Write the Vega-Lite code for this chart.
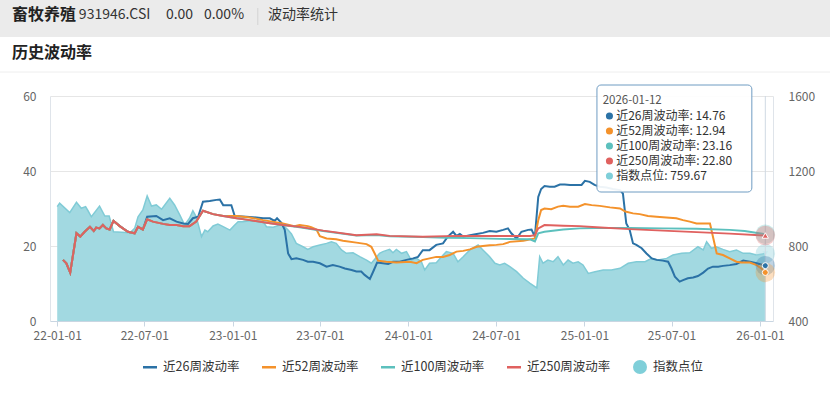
{
  "$schema": "https://vega.github.io/schema/vega-lite/v6.json",
  "width": 723,
  "height": 225,
  "autosize": {"type": "none"},
  "padding": {"left": 50, "top": 96, "right": 57, "bottom": 72},
  "background": "#ffffff",
  "config": {
    "font": "Noto Sans CJK SC",
    "view": {"stroke": null},
    "axis": {"labelFont": "Noto Sans CJK SC", "labelColor": "#666666", "labelFontSize": 12, "title": null}
  },
  "datasets": {
    "idx": [
      {"d":"2022-01-01","p":1010},{"d":"2022-01-06","p":1028},{"d":"2022-01-27","p":978},{"d":"2022-02-10","p":1033},{"d":"2022-02-20","p":1001},{"d":"2022-03-01","p":1010},{"d":"2022-03-06","p":988},{"d":"2022-03-13","p":956},{"d":"2022-03-30","p":1013},{"d":"2022-04-10","p":960},{"d":"2022-04-19","p":960},{"d":"2022-04-28","p":876},{"d":"2022-06-01","p":871},{"d":"2022-06-11","p":894},{"d":"2022-06-18","p":956},{"d":"2022-06-28","p":992},{"d":"2022-07-07","p":1067},{"d":"2022-07-16","p":1013},{"d":"2022-07-26","p":1019},{"d":"2022-08-06","p":996},{"d":"2022-08-23","p":1054},{"d":"2022-09-02","p":1019},{"d":"2022-09-13","p":965},{"d":"2022-09-23","p":912},{"d":"2022-10-03","p":948},{"d":"2022-10-10","p":988},{"d":"2022-10-17","p":956},{"d":"2022-10-28","p":850},{"d":"2022-11-04","p":885},{"d":"2022-11-10","p":876},{"d":"2022-11-21","p":907},{"d":"2022-12-01","p":917},{"d":"2022-12-12","p":903},{"d":"2022-12-26","p":885},
      {"d":"2023-01-05","p":912},{"d":"2023-01-12","p":930},{"d":"2023-01-22","p":930},{"d":"2023-02-05","p":935},{"d":"2023-02-19","p":933},{"d":"2023-03-05","p":930},{"d":"2023-03-12","p":903},{"d":"2023-03-26","p":900},{"d":"2023-04-09","p":912},{"d":"2023-04-15","p":912},{"d":"2023-04-26","p":885},{"d":"2023-05-03","p":864},{"d":"2023-05-13","p":814},{"d":"2023-05-27","p":796},{"d":"2023-06-06","p":782},{"d":"2023-06-17","p":796},{"d":"2023-07-01","p":805},{"d":"2023-07-15","p":814},{"d":"2023-07-25","p":823},{"d":"2023-08-04","p":814},{"d":"2023-08-15","p":779},{"d":"2023-08-25","p":761},{"d":"2023-09-08","p":764},{"d":"2023-09-22","p":743},{"d":"2023-10-06","p":725},{"d":"2023-10-16","p":708},{"d":"2023-10-23","p":729},{"d":"2023-11-02","p":761},{"d":"2023-11-09","p":770},{"d":"2023-11-23","p":782},{"d":"2023-11-30","p":764},{"d":"2023-12-07","p":782},{"d":"2023-12-18","p":761},{"d":"2023-12-28","p":770},
      {"d":"2024-01-07","p":725},{"d":"2024-01-18","p":734},{"d":"2024-01-28","p":716},{"d":"2024-02-04","p":672},{"d":"2024-02-14","p":708},{"d":"2024-02-28","p":711},{"d":"2024-03-10","p":743},{"d":"2024-03-20","p":770},{"d":"2024-04-03","p":761},{"d":"2024-04-13","p":716},{"d":"2024-04-24","p":743},{"d":"2024-05-08","p":779},{"d":"2024-05-25","p":805},{"d":"2024-06-04","p":779},{"d":"2024-06-18","p":743},{"d":"2024-06-29","p":708},{"d":"2024-07-09","p":699},{"d":"2024-07-19","p":708},{"d":"2024-07-30","p":690},{"d":"2024-08-13","p":663},{"d":"2024-08-27","p":628},{"d":"2024-09-10","p":601},{"d":"2024-09-20","p":583},{"d":"2024-09-24","p":576},{"d":"2024-09-30","p":743},{"d":"2024-10-07","p":708},{"d":"2024-10-17","p":725},{"d":"2024-10-28","p":716},{"d":"2024-11-07","p":743},{"d":"2024-11-18","p":699},{"d":"2024-11-28","p":725},{"d":"2024-12-08","p":708},{"d":"2024-12-19","p":716},{"d":"2024-12-29","p":699},
      {"d":"2025-01-09","p":654},{"d":"2025-01-23","p":663},{"d":"2025-02-09","p":672},{"d":"2025-02-26","p":672},{"d":"2025-03-16","p":681},{"d":"2025-04-02","p":708},{"d":"2025-04-19","p":716},{"d":"2025-05-07","p":716},{"d":"2025-05-21","p":734},{"d":"2025-06-03","p":725},{"d":"2025-06-21","p":734},{"d":"2025-07-04","p":752},{"d":"2025-07-22","p":761},{"d":"2025-08-08","p":764},{"d":"2025-08-25","p":796},{"d":"2025-09-05","p":779},{"d":"2025-09-12","p":823},{"d":"2025-09-22","p":788},{"d":"2025-10-02","p":796},{"d":"2025-10-16","p":782},{"d":"2025-10-30","p":770},{"d":"2025-11-13","p":779},{"d":"2025-11-27","p":761},{"d":"2025-12-11","p":761},{"d":"2025-12-25","p":752},{"d":"2026-01-12","p":759.67}
    ],
    "vol": [
      {"d":"2022-01-13","s":"26","v":16.3},{"d":"2022-01-20","s":"26","v":15.4},{"d":"2022-01-28","s":"26","v":12.9},{"d":"2022-02-10","s":"26","v":23.4},{"d":"2022-02-18","s":"26","v":22.5},{"d":"2022-02-27","s":"26","v":23.8},{"d":"2022-03-10","s":"26","v":25.1},{"d":"2022-03-18","s":"26","v":24.0},{"d":"2022-03-23","s":"26","v":24.9},{"d":"2022-03-30","s":"26","v":24.7},{"d":"2022-04-06","s":"26","v":25.6},{"d":"2022-04-13","s":"26","v":24.7},{"d":"2022-04-20","s":"26","v":24.4},{"d":"2022-04-28","s":"26","v":26.7},{"d":"2022-05-11","s":"26","v":25.3},{"d":"2022-05-28","s":"26","v":23.8},{"d":"2022-06-11","s":"26","v":23.4},{"d":"2022-06-18","s":"26","v":25.1},{"d":"2022-06-28","s":"26","v":24.4},
      {"d":"2022-07-07","s":"26","v":27.8},{"d":"2022-07-26","s":"26","v":28.0},{"d":"2022-08-09","s":"26","v":26.9},{"d":"2022-08-23","s":"26","v":27.4},{"d":"2022-09-06","s":"26","v":26.5},{"d":"2022-09-20","s":"26","v":26.0},{"d":"2022-09-30","s":"26","v":25.9},{"d":"2022-10-10","s":"26","v":27.4},{"d":"2022-10-21","s":"26","v":27.8},{"d":"2022-10-31","s":"26","v":31.8},{"d":"2022-11-14","s":"26","v":32.0},{"d":"2022-11-28","s":"26","v":32.3},{"d":"2022-12-05","s":"26","v":32.4},{"d":"2022-12-12","s":"26","v":30.9},{"d":"2022-12-29","s":"26","v":30.9},
      {"d":"2023-01-05","s":"26","v":28.0},{"d":"2023-01-29","s":"26","v":27.8},{"d":"2023-02-19","s":"26","v":27.6},{"d":"2023-03-05","s":"26","v":27.4},{"d":"2023-03-19","s":"26","v":27.4},{"d":"2023-03-29","s":"26","v":26.7},{"d":"2023-04-03","s":"26","v":27.4},{"d":"2023-04-12","s":"26","v":26.2},{"d":"2023-04-19","s":"26","v":24.3},{"d":"2023-04-26","s":"26","v":18.0},{"d":"2023-05-03","s":"26","v":16.5},{"d":"2023-05-13","s":"26","v":16.7},{"d":"2023-05-27","s":"26","v":16.3},{"d":"2023-06-06","s":"26","v":15.8},{"d":"2023-06-17","s":"26","v":15.8},{"d":"2023-07-01","s":"26","v":15.4},{"d":"2023-07-15","s":"26","v":14.5},{"d":"2023-07-28","s":"26","v":14.9},{"d":"2023-08-11","s":"26","v":14.5},{"d":"2023-08-22","s":"26","v":14.0},{"d":"2023-09-05","s":"26","v":13.6},{"d":"2023-09-15","s":"26","v":13.2},{"d":"2023-09-25","s":"26","v":13.2},{"d":"2023-10-02","s":"26","v":12.3},{"d":"2023-10-13","s":"26","v":11.2},{"d":"2023-10-20","s":"26","v":13.2},{"d":"2023-10-28","s":"26","v":15.6},{"d":"2023-11-09","s":"26","v":15.4},{"d":"2023-11-20","s":"26","v":15.2},{"d":"2023-11-30","s":"26","v":15.8},{"d":"2023-12-14","s":"26","v":15.8},{"d":"2023-12-28","s":"26","v":16.3},
      {"d":"2024-01-11","s":"26","v":16.7},{"d":"2024-01-21","s":"26","v":17.1},{"d":"2024-01-31","s":"26","v":18.9},{"d":"2024-02-14","s":"26","v":18.9},{"d":"2024-02-28","s":"26","v":20.3},{"d":"2024-03-13","s":"26","v":20.7},{"d":"2024-03-23","s":"26","v":22.5},{"d":"2024-04-03","s":"26","v":23.8},{"d":"2024-04-10","s":"26","v":22.7},{"d":"2024-04-17","s":"26","v":23.2},{"d":"2024-04-24","s":"26","v":22.5},{"d":"2024-05-08","s":"26","v":22.9},{"d":"2024-05-22","s":"26","v":23.2},{"d":"2024-06-04","s":"26","v":23.5},{"d":"2024-06-18","s":"26","v":24.0},{"d":"2024-07-02","s":"26","v":23.8},{"d":"2024-07-16","s":"26","v":24.3},{"d":"2024-07-26","s":"26","v":24.7},{"d":"2024-08-02","s":"26","v":23.4},{"d":"2024-08-13","s":"26","v":22.0},{"d":"2024-08-23","s":"26","v":23.8},{"d":"2024-09-06","s":"26","v":24.3},{"d":"2024-09-13","s":"26","v":24.4},{"d":"2024-09-20","s":"26","v":22.5},{"d":"2024-09-27","s":"26","v":33.1},{"d":"2024-10-03","s":"26","v":35.2},{"d":"2024-10-10","s":"26","v":36.0},{"d":"2024-10-21","s":"26","v":35.8},{"d":"2024-10-31","s":"26","v":35.8},{"d":"2024-11-11","s":"26","v":36.4},{"d":"2024-11-21","s":"26","v":36.4},{"d":"2024-12-02","s":"26","v":36.3},{"d":"2024-12-15","s":"26","v":36.3},{"d":"2024-12-26","s":"26","v":36.3},
      {"d":"2025-01-02","s":"26","v":37.4},{"d":"2025-01-12","s":"26","v":37.1},{"d":"2025-01-22","s":"26","v":36.3},{"d":"2025-02-02","s":"26","v":35.8},{"d":"2025-02-16","s":"26","v":35.6},{"d":"2025-03-01","s":"26","v":35.2},{"d":"2025-03-16","s":"26","v":34.9},{"d":"2025-03-22","s":"26","v":34.0},{"d":"2025-03-29","s":"26","v":26.0},{"d":"2025-04-05","s":"26","v":24.3},{"d":"2025-04-12","s":"26","v":20.7},{"d":"2025-04-19","s":"26","v":20.3},{"d":"2025-04-30","s":"26","v":19.4},{"d":"2025-05-10","s":"26","v":18.0},{"d":"2025-05-21","s":"26","v":16.7},{"d":"2025-05-31","s":"26","v":16.3},{"d":"2025-06-13","s":"26","v":16.1},{"d":"2025-06-24","s":"26","v":15.8},{"d":"2025-07-01","s":"26","v":14.0},{"d":"2025-07-08","s":"26","v":11.8},{"d":"2025-07-18","s":"26","v":10.5},{"d":"2025-07-25","s":"26","v":10.9},{"d":"2025-08-04","s":"26","v":11.4},{"d":"2025-08-15","s":"26","v":11.6},{"d":"2025-08-25","s":"26","v":12.0},{"d":"2025-09-05","s":"26","v":12.9},{"d":"2025-09-15","s":"26","v":14.0},{"d":"2025-09-25","s":"26","v":14.5},{"d":"2025-10-06","s":"26","v":14.5},{"d":"2025-10-16","s":"26","v":14.7},{"d":"2025-10-30","s":"26","v":14.9},{"d":"2025-11-13","s":"26","v":15.2},{"d":"2025-11-27","s":"26","v":16.1},{"d":"2025-12-11","s":"26","v":15.8},{"d":"2025-12-25","s":"26","v":15.4},{"d":"2026-01-12","s":"26","v":14.76},

      {"d":"2022-01-13","s":"52","v":16.3},{"d":"2022-01-20","s":"52","v":15.4},{"d":"2022-01-28","s":"52","v":12.9},{"d":"2022-02-10","s":"52","v":23.4},{"d":"2022-02-18","s":"52","v":22.5},{"d":"2022-02-27","s":"52","v":23.8},{"d":"2022-03-10","s":"52","v":25.1},{"d":"2022-03-18","s":"52","v":24.0},{"d":"2022-03-23","s":"52","v":24.9},{"d":"2022-03-30","s":"52","v":24.7},{"d":"2022-04-06","s":"52","v":25.6},{"d":"2022-04-13","s":"52","v":24.7},{"d":"2022-04-20","s":"52","v":24.4},{"d":"2022-04-28","s":"52","v":26.7},{"d":"2022-05-11","s":"52","v":25.3},{"d":"2022-05-28","s":"52","v":23.8},{"d":"2022-06-11","s":"52","v":23.4},{"d":"2022-06-18","s":"52","v":25.1},{"d":"2022-06-28","s":"52","v":24.4},
      {"d":"2022-07-07","s":"52","v":27.1},{"d":"2022-07-19","s":"52","v":26.5},{"d":"2022-08-09","s":"52","v":25.9},{"d":"2022-08-23","s":"52","v":25.6},{"d":"2022-09-06","s":"52","v":25.6},{"d":"2022-09-20","s":"52","v":25.3},{"d":"2022-10-03","s":"52","v":25.3},{"d":"2022-10-17","s":"52","v":26.5},{"d":"2022-10-31","s":"52","v":29.4},{"d":"2022-11-21","s":"52","v":28.5},{"d":"2022-12-12","s":"52","v":28.0},
      {"d":"2023-01-09","s":"52","v":28.0},{"d":"2023-02-05","s":"52","v":27.6},{"d":"2023-03-05","s":"52","v":26.9},{"d":"2023-04-15","s":"52","v":26.0},{"d":"2023-05-09","s":"52","v":25.3},{"d":"2023-05-20","s":"52","v":25.6},{"d":"2023-06-06","s":"52","v":25.3},{"d":"2023-06-13","s":"52","v":25.0},{"d":"2023-06-24","s":"52","v":24.4},{"d":"2023-07-01","s":"52","v":22.6},{"d":"2023-07-15","s":"52","v":22.0},{"d":"2023-08-04","s":"52","v":21.8},{"d":"2023-08-18","s":"52","v":21.4},{"d":"2023-09-15","s":"52","v":20.9},{"d":"2023-10-06","s":"52","v":20.5},{"d":"2023-10-16","s":"52","v":19.8},{"d":"2023-10-23","s":"52","v":18.0},{"d":"2023-10-30","s":"52","v":16.1},{"d":"2023-11-16","s":"52","v":15.8},{"d":"2023-12-07","s":"52","v":15.6},
      {"d":"2024-01-04","s":"52","v":15.8},{"d":"2024-01-18","s":"52","v":15.4},{"d":"2024-01-31","s":"52","v":16.3},{"d":"2024-02-14","s":"52","v":16.7},{"d":"2024-02-28","s":"52","v":17.1},{"d":"2024-03-13","s":"52","v":17.1},{"d":"2024-03-27","s":"52","v":17.6},{"d":"2024-04-10","s":"52","v":18.5},{"d":"2024-04-24","s":"52","v":18.7},{"d":"2024-05-08","s":"52","v":19.1},{"d":"2024-05-22","s":"52","v":19.8},{"d":"2024-06-04","s":"52","v":20.0},{"d":"2024-06-18","s":"52","v":20.2},{"d":"2024-07-02","s":"52","v":20.3},{"d":"2024-07-16","s":"52","v":20.5},{"d":"2024-07-30","s":"52","v":21.1},{"d":"2024-08-27","s":"52","v":21.4},{"d":"2024-09-20","s":"52","v":22.0},{"d":"2024-09-27","s":"52","v":26.9},{"d":"2024-10-03","s":"52","v":29.6},{"d":"2024-10-10","s":"52","v":30.0},{"d":"2024-10-24","s":"52","v":29.8},{"d":"2024-11-07","s":"52","v":30.5},{"d":"2024-11-18","s":"52","v":30.7},{"d":"2024-12-02","s":"52","v":30.5},{"d":"2024-12-19","s":"52","v":30.5},
      {"d":"2025-01-02","s":"52","v":31.2},{"d":"2025-01-16","s":"52","v":30.9},{"d":"2025-02-02","s":"52","v":30.7},{"d":"2025-02-23","s":"52","v":30.3},{"d":"2025-03-16","s":"52","v":30.0},{"d":"2025-03-27","s":"52","v":29.2},{"d":"2025-04-12","s":"52","v":28.7},{"d":"2025-04-26","s":"52","v":28.5},{"d":"2025-05-13","s":"52","v":28.0},{"d":"2025-05-31","s":"52","v":27.8},{"d":"2025-06-20","s":"52","v":27.6},{"d":"2025-07-11","s":"52","v":27.4},{"d":"2025-07-25","s":"52","v":26.9},{"d":"2025-08-08","s":"52","v":26.5},{"d":"2025-08-22","s":"52","v":26.0},{"d":"2025-09-19","s":"52","v":26.0},{"d":"2025-09-26","s":"52","v":22.0},{"d":"2025-10-03","s":"52","v":18.0},{"d":"2025-10-16","s":"52","v":17.6},{"d":"2025-10-30","s":"52","v":16.7},{"d":"2025-11-13","s":"52","v":15.8},{"d":"2025-11-23","s":"52","v":15.6},{"d":"2025-12-11","s":"52","v":15.6},{"d":"2025-12-25","s":"52","v":14.9},{"d":"2026-01-04","s":"52","v":14.0},{"d":"2026-01-12","s":"52","v":12.94},

      {"d":"2022-01-13","s":"100","v":16.3},{"d":"2022-01-20","s":"100","v":15.4},{"d":"2022-01-28","s":"100","v":12.9},{"d":"2022-02-10","s":"100","v":23.4},{"d":"2022-02-18","s":"100","v":22.5},{"d":"2022-02-27","s":"100","v":23.8},{"d":"2022-03-10","s":"100","v":25.1},{"d":"2022-03-18","s":"100","v":24.0},{"d":"2022-03-23","s":"100","v":24.9},{"d":"2022-03-30","s":"100","v":24.7},{"d":"2022-04-06","s":"100","v":25.6},{"d":"2022-04-13","s":"100","v":24.7},{"d":"2022-04-20","s":"100","v":24.4},{"d":"2022-04-28","s":"100","v":26.7},{"d":"2022-05-11","s":"100","v":25.3},{"d":"2022-05-28","s":"100","v":23.8},{"d":"2022-06-11","s":"100","v":23.4},{"d":"2022-06-18","s":"100","v":25.1},{"d":"2022-06-28","s":"100","v":24.4},
      {"d":"2022-07-07","s":"100","v":27.1},{"d":"2022-07-19","s":"100","v":26.5},{"d":"2022-08-09","s":"100","v":25.9},{"d":"2022-08-23","s":"100","v":25.6},{"d":"2022-09-06","s":"100","v":25.6},{"d":"2022-09-20","s":"100","v":25.3},{"d":"2022-10-03","s":"100","v":25.3},{"d":"2022-10-17","s":"100","v":26.5},{"d":"2022-10-31","s":"100","v":29.4},{"d":"2022-11-21","s":"100","v":28.5},{"d":"2022-12-12","s":"100","v":28.0},
      {"d":"2023-01-09","s":"100","v":27.4},{"d":"2023-02-05","s":"100","v":26.9},{"d":"2023-03-12","s":"100","v":26.2},{"d":"2023-04-15","s":"100","v":25.6},{"d":"2023-05-20","s":"100","v":25.0},{"d":"2023-07-08","s":"100","v":24.0},{"d":"2023-09-15","s":"100","v":22.8},{"d":"2023-10-27","s":"100","v":22.9},{"d":"2023-11-23","s":"100","v":22.6},{"d":"2024-01-31","s":"100","v":22.4},
      {"d":"2024-03-20","s":"100","v":22.2},{"d":"2024-05-08","s":"100","v":22.1},{"d":"2024-07-09","s":"100","v":21.9},{"d":"2024-09-10","s":"100","v":21.8},{"d":"2024-09-20","s":"100","v":21.2},{"d":"2024-09-27","s":"100","v":23.4},{"d":"2024-10-10","s":"100","v":23.8},{"d":"2024-11-18","s":"100","v":24.4},{"d":"2024-12-22","s":"100","v":24.7},{"d":"2025-01-26","s":"100","v":24.8},{"d":"2025-04-05","s":"100","v":24.8},{"d":"2025-06-13","s":"100","v":24.7},{"d":"2025-08-22","s":"100","v":24.6},{"d":"2025-10-30","s":"100","v":24.3},{"d":"2025-11-30","s":"100","v":24.0},{"d":"2026-01-12","s":"100","v":23.16},

      {"d":"2022-01-13","s":"250","v":16.3},{"d":"2022-01-20","s":"250","v":15.4},{"d":"2022-01-28","s":"250","v":12.9},{"d":"2022-02-10","s":"250","v":23.4},{"d":"2022-02-18","s":"250","v":22.5},{"d":"2022-02-27","s":"250","v":23.8},{"d":"2022-03-10","s":"250","v":25.1},{"d":"2022-03-18","s":"250","v":24.0},{"d":"2022-03-23","s":"250","v":24.9},{"d":"2022-03-30","s":"250","v":24.7},{"d":"2022-04-06","s":"250","v":25.6},{"d":"2022-04-13","s":"250","v":24.7},{"d":"2022-04-20","s":"250","v":24.4},{"d":"2022-04-28","s":"250","v":26.7},{"d":"2022-05-11","s":"250","v":25.3},{"d":"2022-05-28","s":"250","v":23.8},{"d":"2022-06-11","s":"250","v":23.4},{"d":"2022-06-18","s":"250","v":25.1},{"d":"2022-06-28","s":"250","v":24.4},
      {"d":"2022-07-07","s":"250","v":27.1},{"d":"2022-07-19","s":"250","v":26.5},{"d":"2022-08-09","s":"250","v":25.9},{"d":"2022-08-23","s":"250","v":25.6},{"d":"2022-09-06","s":"250","v":25.6},{"d":"2022-09-20","s":"250","v":25.3},{"d":"2022-10-03","s":"250","v":25.3},{"d":"2022-10-17","s":"250","v":26.5},{"d":"2022-10-31","s":"250","v":29.4},{"d":"2022-11-21","s":"250","v":28.5},{"d":"2022-12-12","s":"250","v":28.0},
      {"d":"2023-01-09","s":"250","v":27.4},{"d":"2023-02-05","s":"250","v":26.9},{"d":"2023-03-12","s":"250","v":26.2},{"d":"2023-04-15","s":"250","v":25.6},{"d":"2023-05-20","s":"250","v":25.1},{"d":"2023-07-08","s":"250","v":24.1},{"d":"2023-09-15","s":"250","v":22.9},{"d":"2023-10-27","s":"250","v":23.1},{"d":"2023-11-23","s":"250","v":22.7},{"d":"2024-01-31","s":"250","v":22.5},
      {"d":"2024-04-10","s":"250","v":22.7},{"d":"2024-06-18","s":"250","v":22.7},{"d":"2024-09-10","s":"250","v":22.7},{"d":"2024-09-20","s":"250","v":22.9},{"d":"2024-09-27","s":"250","v":24.7},{"d":"2024-10-10","s":"250","v":25.6},{"d":"2024-11-18","s":"250","v":25.4},{"d":"2024-12-22","s":"250","v":25.3},{"d":"2025-01-26","s":"250","v":25.0},{"d":"2025-04-05","s":"250","v":24.5},{"d":"2025-06-13","s":"250","v":24.1},{"d":"2025-08-22","s":"250","v":23.7},{"d":"2025-10-30","s":"250","v":23.3},{"d":"2026-01-12","s":"250","v":22.8}
    ],
    "leg": [{"s":"26"},{"s":"52"},{"s":"100"},{"s":"250"},{"s":"idx"}],
    "tip": [
      {"k":0,"t":"2026-01-12"},
      {"k":1,"s":"26","t":"近26周波动率: 14.76"},
      {"k":2,"s":"52","t":"近52周波动率: 12.94"},
      {"k":3,"s":"100","t":"近100周波动率: 23.16"},
      {"k":4,"s":"250","t":"近250周波动率: 22.80"},
      {"k":5,"s":"idx","t":"指数点位: 759.67"}
    ]
  },
  "layer": [
    {
      "layer": [
        {
          "data": {"name": "idx"},
          "mark": {"type": "area", "color": "#a2d9e1", "opacity": 1, "line": {"color": "#80cbd6", "strokeWidth": 1.5}},
          "encoding": {
            "x": {
              "field": "d", "type": "temporal", "title": null,
              "scale": {"type": "utc", "nice": false, "domain": [{"year": 2021, "month": 12, "date": 17, "utc": true}, {"year": 2026, "month": 1, "date": 28, "utc": true}]},
              "axis": {
                "values": [
                  {"year": 2022, "month": 1, "date": 1, "utc": true}, {"year": 2022, "month": 7, "date": 1, "utc": true},
                  {"year": 2023, "month": 1, "date": 1, "utc": true}, {"year": 2023, "month": 7, "date": 1, "utc": true},
                  {"year": 2024, "month": 1, "date": 1, "utc": true}, {"year": 2024, "month": 7, "date": 1, "utc": true},
                  {"year": 2025, "month": 1, "date": 1, "utc": true}, {"year": 2025, "month": 7, "date": 1, "utc": true},
                  {"year": 2026, "month": 1, "date": 1, "utc": true}
                ],
                "format": "%y-%m-%d", "grid": false, "domain": true, "domainColor": "#c9d6e2", "ticks": true,
                "tickColor": "#c9d6e2", "tickSize": 5, "labelPadding": 4, "labelColor": "#666666", "labelFontSize": 12, "title": null
              }
            },
            "y": {
              "field": "p", "type": "quantitative", "title": null,
              "scale": {"domain": [400, 1600], "nice": false, "zero": false},
              "axis": {"orient": "right", "values": [400, 800, 1200, 1600], "format": "d", "grid": false, "ticks": false, "domain": true, "domainColor": "#dfe4ea", "labelPadding": 15, "title": null}
            },
            "y2": {"datum": 400}
          }
        },
        {
          "data": {"name": "idx"},
          "transform": [{"filter": "time(datum.d) == utc(2026,0,12)"}],
          "mark": {"type": "point", "filled": true, "size": 380, "color": "#9fd8e1", "opacity": 0.45, "clip": false},
          "encoding": {"x": {"field": "d", "type": "temporal", "title": null}, "y": {"field": "p", "type": "quantitative", "title": null}}
        },
        {
          "data": {"name": "idx"},
          "transform": [{"filter": "time(datum.d) == utc(2026,0,12)"}],
          "mark": {"type": "point", "filled": true, "shape": "triangle-down", "size": 30, "color": "#bfe8ee", "clip": false},
          "encoding": {"x": {"field": "d", "type": "temporal", "title": null}, "y": {"field": "p", "type": "quantitative", "title": null}}
        }
      ]
    },
    {
      "layer": [
        {
          "data": {"values": [{}]},
          "mark": {"type": "rule", "color": "#cfd9e3", "strokeWidth": 1},
          "encoding": {"x": {"datum": {"year": 2026, "month": 1, "date": 12, "utc": true}, "type": "temporal", "title": null}}
        },
        {
          "data": {"name": "vol"},
          "mark": {"type": "line", "strokeWidth": 2},
          "encoding": {
            "x": {"field": "d", "type": "temporal", "title": null},
            "y": {
              "field": "v", "type": "quantitative", "title": null,
              "scale": {"domain": [0, 60], "nice": false},
              "axis": {"orient": "left", "values": [0, 20, 40, 60], "grid": true, "gridColor": "#e6e6e6", "ticks": false, "domain": true, "domainColor": "#dfe4ea", "labelPadding": 14, "title": null}
            },
            "stroke": {
              "field": "s", "type": "nominal",
              "scale": {"domain": ["26", "52", "100", "250"], "range": ["#2b72a6", "#f4922b", "#5cc0bd", "#e0615f"]},
              "legend": null
            }
          }
        },
        {
          "data": {"name": "vol"},
          "transform": [{"filter": "time(datum.d) == utc(2026,0,12)"}],
          "mark": {"type": "point", "filled": true, "size": 380, "opacity": 0.3, "clip": false},
          "encoding": {
            "x": {"field": "d", "type": "temporal", "title": null},
            "y": {"field": "v", "type": "quantitative", "title": null},
            "fill": {
              "field": "s", "type": "nominal",
              "scale": {"domain": ["idx", "26", "52", "100", "250"], "range": ["#7fcfd9", "#2b72a6", "#f4922b", "#5cc0bd", "#e0615f"]},
              "legend": null
            }
          }
        },
        {
          "data": {"name": "vol"},
          "transform": [{"filter": "time(datum.d) == utc(2026,0,12) && (datum.s == '26' || datum.s == '52')"}],
          "mark": {"type": "point", "filled": true, "size": 36, "stroke": "#ffffff", "strokeWidth": 1, "opacity": 1, "clip": false},
          "encoding": {
            "x": {"field": "d", "type": "temporal", "title": null},
            "y": {"field": "v", "type": "quantitative", "title": null},
            "fill": {"field": "s", "type": "nominal", "legend": null}
          }
        },
        {
          "data": {"name": "vol"},
          "transform": [{"filter": "time(datum.d) == utc(2026,0,12) && datum.s == '250'"}],
          "mark": {"type": "point", "filled": true, "shape": "triangle-up", "size": 40, "stroke": "#ffffff", "strokeWidth": 1, "opacity": 1, "clip": false},
          "encoding": {
            "x": {"field": "d", "type": "temporal", "title": null},
            "y": {"field": "v", "type": "quantitative", "title": null},
            "fill": {"field": "s", "type": "nominal", "legend": null}
          }
        },
        {
          "data": {"name": "leg"},
          "mark": {"type": "point", "filled": true, "opacity": 0},
          "encoding": {
            "x": {"datum": {"year": 2023, "month": 1, "date": 1, "utc": true}, "type": "temporal", "title": null},
            "y": {"datum": 30, "type": "quantitative", "title": null},
            "color": {
              "field": "s", "type": "nominal",
              "scale": {"domain": ["26", "52", "100", "250", "idx"], "range": ["#2b72a6", "#f4922b", "#5cc0bd", "#e0615f", "#7fcfd9"]},
              "legend": {
                "orient": "none", "legendX": 93, "legendY": 264, "direction": "horizontal", "title": null,
                "symbolSize": 196, "symbolStrokeWidth": 0, "symbolOpacity": 1, "labelFontSize": 12.5, "labelColor": "#333333",
                "labelFont": "Noto Sans CJK SC", "labelOffset": 6, "columnPadding": 22, "padding": 0,
                "labelExpr": "datum.label == 'idx' ? '指数点位' : '近' + datum.label + '周波动率'"
              }
            },
            "shape": {
              "field": "s", "type": "nominal",
              "scale": {"domain": ["26", "52", "100", "250", "idx"], "range": ["M-1,-0.18H1V0.18H-1Z", "M-1,-0.18H1V0.18H-1Z", "M-1,-0.18H1V0.18H-1Z", "M-1,-0.18H1V0.18H-1Z", "circle"]},
              "legend": {
                "orient": "none", "legendX": 93, "legendY": 264, "direction": "horizontal", "title": null,
                "symbolSize": 196, "symbolStrokeWidth": 0, "symbolOpacity": 1, "labelFontSize": 12.5, "labelColor": "#333333",
                "labelFont": "Noto Sans CJK SC", "labelOffset": 6, "columnPadding": 22, "padding": 0,
                "labelExpr": "datum.label == 'idx' ? '指数点位' : '近' + datum.label + '周波动率'"
              }
            }
          }
        },
        {
          "data": {"values": [{}]},
          "mark": {"type": "rect", "color": "#ebebeb", "clip": false},
          "encoding": {
            "x": {"datum": {"year": 2021, "month": 8, "date": 25, "utc": true}, "type": "temporal", "title": null},
            "x2": {"datum": {"year": 2026, "month": 6, "date": 6, "utc": true}},
            "y": {"datum": 85.7, "type": "quantitative", "title": null},
            "y2": {"datum": 75.73}
          }
        },
        {
          "data": {"values": [{}]},
          "mark": {"type": "rule", "color": "#eeeeee", "strokeWidth": 1, "clip": false},
          "encoding": {
            "x": {"datum": {"year": 2021, "month": 8, "date": 25, "utc": true}, "type": "temporal", "title": null},
            "x2": {"datum": {"year": 2026, "month": 6, "date": 6, "utc": true}},
            "y": {"datum": 66.4, "type": "quantitative", "title": null}
          }
        },
        {
          "data": {"values": [{}]},
          "mark": {"type": "rule", "color": "#d3d3d3", "strokeWidth": 1, "clip": false},
          "encoding": {
            "x": {"datum": {"year": 2023, "month": 2, "date": 22, "utc": true}, "type": "temporal", "title": null},
            "y": {"datum": 83.47, "type": "quantitative", "title": null},
            "y2": {"datum": 78.93}
          }
        },
        {
          "data": {"values": [{"t": "畜牧养殖"}]},
          "mark": {"type": "text", "align": "left", "baseline": "middle", "fontSize": 16, "fontWeight": "bold", "color": "#222222", "clip": false},
          "encoding": {
            "x": {"datum": {"year": 2021, "month": 9, "date": 29, "utc": true}, "type": "temporal", "title": null},
            "y": {"datum": 81.6, "type": "quantitative", "title": null},
            "text": {"field": "t"}
          }
        },
        {
          "data": {"values": [{"t": "931946.CSI"}]},
          "mark": {"type": "text", "align": "left", "baseline": "middle", "fontSize": 14, "color": "#333333", "clip": false},
          "encoding": {
            "x": {"datum": {"year": 2022, "month": 2, "date": 15, "utc": true}, "type": "temporal", "title": null},
            "y": {"datum": 81.6, "type": "quantitative", "title": null},
            "text": {"field": "t"}
          }
        },
        {
          "data": {"values": [{"t": "0.00"}]},
          "mark": {"type": "text", "align": "left", "baseline": "middle", "fontSize": 14, "color": "#333333", "clip": false},
          "encoding": {
            "x": {"datum": {"year": 2022, "month": 8, "date": 15, "utc": true}, "type": "temporal", "title": null},
            "y": {"datum": 81.6, "type": "quantitative", "title": null},
            "text": {"field": "t"}
          }
        },
        {
          "data": {"values": [{"t": "0.00%"}]},
          "mark": {"type": "text", "align": "left", "baseline": "middle", "fontSize": 14, "color": "#333333", "clip": false},
          "encoding": {
            "x": {"datum": {"year": 2022, "month": 11, "date": 2, "utc": true}, "type": "temporal", "title": null},
            "y": {"datum": 81.6, "type": "quantitative", "title": null},
            "text": {"field": "t"}
          }
        },
        {
          "data": {"values": [{"t": "波动率统计"}]},
          "mark": {"type": "text", "align": "left", "baseline": "middle", "fontSize": 14, "color": "#333333", "clip": false},
          "encoding": {
            "x": {"datum": {"year": 2023, "month": 3, "date": 15, "utc": true}, "type": "temporal", "title": null},
            "y": {"datum": 81.6, "type": "quantitative", "title": null},
            "text": {"field": "t"}
          }
        },
        {
          "data": {"values": [{"t": "历史波动率"}]},
          "mark": {"type": "text", "align": "left", "baseline": "middle", "fontSize": 16, "fontWeight": "bold", "color": "#222222", "clip": false},
          "encoding": {
            "x": {"datum": {"year": 2021, "month": 9, "date": 29, "utc": true}, "type": "temporal", "title": null},
            "y": {"datum": 71.47, "type": "quantitative", "title": null},
            "text": {"field": "t"}
          }
        },
        {
          "data": {"values": [{}]},
          "mark": {"type": "rect", "fill": "#ffffff", "fillOpacity": 0.92, "stroke": "#6f9cc2", "strokeWidth": 1, "cornerRadius": 4, "clip": false},
          "encoding": {
            "x": {"datum": {"year": 2025, "month": 1, "date": 27, "utc": true}, "type": "temporal", "title": null},
            "x2": {"datum": {"year": 2025, "month": 12, "date": 15, "utc": true}},
            "y": {"datum": 62.93, "type": "quantitative", "title": null},
            "y2": {"datum": 34.4}
          }
        }
      ]
    },
    {
      "data": {"name": "tip"},
      "layer": [
        {
          "transform": [{"filter": "datum.k > 0"}],
          "mark": {"type": "point", "filled": true, "size": 50, "opacity": 1, "clip": false},
          "encoding": {
            "x": {"datum": {"year": 2025, "month": 2, "date": 22, "utc": true}, "type": "temporal", "title": null},
            "y": {"field": "k", "type": "ordinal", "scale": {"type": "point", "domain": [0, 1, 2, 3, 4, 5], "range": [5, 80], "padding": 0}, "axis": null},
            "fill": {"field": "s", "type": "nominal", "legend": null}
          }
        },
        {
          "transform": [{"filter": "datum.k > 0"}],
          "mark": {"type": "text", "align": "left", "baseline": "middle", "fontSize": 12, "color": "#333333", "clip": false},
          "encoding": {
            "x": {"datum": {"year": 2025, "month": 3, "date": 8, "utc": true}, "type": "temporal", "title": null},
            "y": {"field": "k", "type": "ordinal", "axis": null},
            "text": {"field": "t"}
          }
        },
        {
          "transform": [{"filter": "datum.k == 0"}],
          "mark": {"type": "text", "align": "left", "baseline": "middle", "fontSize": 11.5, "color": "#555555", "clip": false},
          "encoding": {
            "x": {"datum": {"year": 2025, "month": 2, "date": 8, "utc": true}, "type": "temporal", "title": null},
            "y": {"field": "k", "type": "ordinal", "axis": null},
            "text": {"field": "t"}
          }
        }
      ]
    }
  ],
  "resolve": {"scale": {"y": "independent"}}
}
